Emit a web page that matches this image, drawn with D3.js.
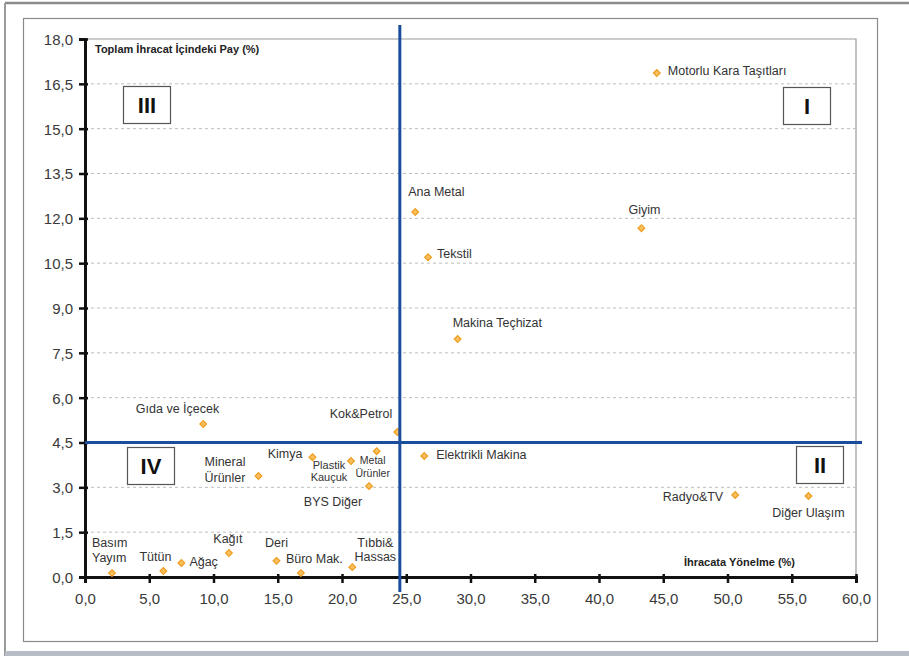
<!DOCTYPE html>
<html><head><meta charset="utf-8">
<script src="https://cdn.jsdelivr.net/npm/d3@7"></script>
<style>
body{margin:0;background:#fff;}
svg{display:block;font-family:"Liberation Sans",Arial,sans-serif;}
</style></head>
<body>
<svg id="c" width="909" height="656"></svg>
<script>
// ---- data ----
const sectors = ["Motorlu Kara Taşıtları","Giyim","Ana Metal","Tekstil","Makina Teçhizat","Gıda ve İçecek","Kok&Petrol","Elektrikli Makina","Kimya","Plastik\nKauçuk","Metal\nÜrünler","BYS Diğer","Mineral\nÜrünler","Radyo&TV","Diğer Ulaşım","Basım\nYayım","Tütün","Ağaç","Kağıt","Deri","Büro Mak.","Tıbbi&\nHassas"];
const exportOrientation = [44.5,43.3,25.7,26.7,29.0,9.2,24.3,26.4,17.7,20.7,22.7,22.1,13.5,50.6,56.3,2.1,6.1,7.5,11.2,14.9,16.8,20.8];
const exportShare = [16.86,11.67,12.21,10.70,7.96,5.12,4.85,4.05,4.01,3.88,4.21,3.04,3.38,2.74,2.71,0.13,0.20,0.47,0.80,0.54,0.13,0.33];
const xTicks = [0,5,10,15,20,25,30,35,40,45,50,55,60];
const yTicks = [0,1.5,3,4.5,6,7.5,9,10.5,12,13.5,15,16.5,18];
const xDivider = 24.5;
const yDivider = 4.5;
const quadrants = ["I","II","III","IV"];
const xTitle = "İhracata Yönelme (%)";
const yTitle = "Toplam İhracat İçindeki Pay (%)";

// ---- layout (label placement relative to points) ----
const labelLayout = {
  "Motorlu Kara Taşıtları":{dx:11,dy:2,a:"start",fs:12.5},
  "Giyim":{dx:3,dy:-14,a:"middle",fs:12.5},
  "Ana Metal":{dx:-7,dy:-16,a:"start",fs:12.5},
  "Tekstil":{dx:9,dy:1,a:"start",fs:12.5},
  "Makina Teçhizat":{dx:-5,dy:-12,a:"start",fs:12.5},
  "Gıda ve İçecek":{dx:16,dy:-11,a:"end",fs:12.5},
  "Kok&Petrol":{dx:-5,dy:-14,a:"end",fs:12.5},
  "Elektrikli Makina":{dx:12,dy:3,a:"start",fs:12.5},
  "Kimya":{dx:-10,dy:1,a:"end",fs:12.5},
  "Plastik\nKauçuk":{dx:-22,dy:8,a:"middle",fs:11,lh:12},
  "Metal\nÜrünler":{dx:-4,dy:13,a:"middle",fs:10.5,lh:13},
  "BYS Diğer":{dx:-36,dy:20,a:"middle",fs:12.5},
  "Mineral\nÜrünler":{dx:-54,dy:-10,a:"start",fs:12.5,lh:16},
  "Radyo&TV":{dx:-12,dy:6,a:"end",fs:12.5},
  "Diğer Ulaşım":{dx:0,dy:21,a:"middle",fs:12.5},
  "Basım\nYayım":{dx:-20,dy:-26,a:"start",fs:12.5,lh:15},
  "Tütün":{dx:-8,dy:-10,a:"middle",fs:12.5},
  "Ağaç":{dx:8,dy:3,a:"start",fs:12.5},
  "Kağıt":{dx:-1,dy:-10,a:"middle",fs:12.5},
  "Deri":{dx:0,dy:-14,a:"middle",fs:12.5},
  "Büro Mak.":{dx:-15,dy:-10,a:"start",fs:12.5},
  "Tıbbi&\nHassas":{dx:23,dy:-20,a:"middle",fs:12.5,lh:13.5}
};

const svg = d3.select("#c");
const fmt = v => d3.format(".1f")(v).replace(".", ",");

// frames
svg.append("rect").attr("x",0).attr("y",0).attr("width",909).attr("height",656).attr("fill","#fff");
svg.append("line").attr("x1",5).attr("x2",909).attr("y1",3).attr("y2",3).attr("stroke","#8a8a8a").attr("stroke-width",2.5);
svg.append("line").attr("x1",5).attr("x2",5).attr("y1",3).attr("y2",656).attr("stroke","#9a9a9a").attr("stroke-width",2);
svg.append("rect").attr("x",5).attr("y",651).attr("width",904).attr("height",5).attr("fill","#b8bcc4");
svg.append("rect").attr("x",23.5).attr("y",18.5).attr("width",854).attr("height",623).attr("fill","none").attr("stroke","#8a8a8a").attr("stroke-width",1.2);

const x = d3.scaleLinear().domain([0,60]).range([85,856]);
const y = d3.scaleLinear().domain([0,18]).range([577,39]);

// plot border (top/right)
svg.append("path").attr("d",`M${x(0)},${y(18)}H${x(60)}V${y(0)}`).attr("fill","none").attr("stroke","#9a9a9a").attr("stroke-width",1.2);

// gridlines
svg.append("g").selectAll("line").data(yTicks.filter(t=>t>0 && t<18)).join("line")
  .attr("x1",x(0)).attr("x2",x(60)).attr("y1",d=>y(d)).attr("y2",d=>y(d))
  .attr("stroke","#bdbdbd").attr("stroke-width",1).attr("stroke-dasharray","3,3");

// axes
const xAxis = svg.append("g").attr("transform",`translate(0,${y(0)})`)
  .call(d3.axisBottom(x).tickValues(xTicks).tickFormat(fmt).tickSize(6).tickPadding(10));
const yAxis = svg.append("g").attr("transform",`translate(${x(0)},0)`)
  .call(d3.axisLeft(y).tickValues(yTicks).tickFormat(fmt).tickSize(6).tickPadding(6));
[xAxis,yAxis].forEach(g=>{
  g.select(".domain").attr("stroke","#111").attr("stroke-width",3);
  g.selectAll(".tick line").attr("stroke","#111").attr("stroke-width",2.5);
  g.selectAll(".tick text").attr("fill","#3a3a3a").style("font-size","15px").style("font-family","'Liberation Sans',Arial,sans-serif");
});
xAxis.selectAll(".tick line").attr("y1",-3);
yAxis.selectAll(".tick line").attr("x1",3);
yAxis.selectAll(".tick text").attr("dy","0.36em");

// axis titles
svg.append("text").attr("x",95).attr("y",53).text(yTitle)
  .attr("font-family","'Liberation Sans Narrow','Arial Narrow','Liberation Sans',sans-serif")
  .attr("font-weight","bold").attr("font-size",11).attr("fill","#222");
svg.append("text").attr("x",795).attr("y",566).attr("text-anchor","end").text(xTitle)
  .attr("font-family","'Liberation Sans Narrow','Arial Narrow','Liberation Sans',sans-serif")
  .attr("font-weight","bold").attr("font-size",11).attr("fill","#222");

// points
const pts = sectors.map((s,i)=>({name:s,x:exportOrientation[i],y:exportShare[i]}));
svg.append("g").selectAll("path").data(pts).join("path")
  .attr("transform",d=>`translate(${x(d.x)},${y(d.y)})`)
  .attr("d",d3.symbol(d3.symbolDiamond2,28))
  .attr("fill","#f9c060").attr("stroke","#ef9f22").attr("stroke-width",1.3);

// dividers (drawn over the points)
svg.append("line").attr("x1",x(xDivider)).attr("x2",x(xDivider)).attr("y1",25).attr("y2",592)
  .attr("stroke","#1a4d9c").attr("stroke-width",3);
svg.append("line").attr("x1",x(0)).attr("x2",862).attr("y1",y(yDivider)).attr("y2",y(yDivider))
  .attr("stroke","#1a4d9c").attr("stroke-width",3);

// quadrant boxes
const qPos = {"I":[783,87],"II":[796,446],"III":[123,86],"IV":[127,447]};
quadrants.forEach(q=>{
  const [bx,by] = qPos[q];
  svg.append("rect").attr("x",bx+0.5).attr("y",by+0.5).attr("width",47).attr("height",37)
    .attr("fill","#fff").attr("stroke","#555").attr("stroke-width",1.2);
  svg.append("text").attr("x",bx+24).attr("y",by+27).attr("text-anchor","middle")
    .attr("font-weight","bold").attr("font-size",22).attr("fill","#111")
    .attr("font-family","'Liberation Sans Narrow','Liberation Sans',Arial,sans-serif").text(q);
});

// labels
const lg = svg.append("g");
pts.forEach(p=>{
  const L = labelLayout[p.name];
  const lines = p.name.split("\n");
  const t = lg.append("text").attr("text-anchor",L.a).attr("font-size",L.fs).attr("fill","#333")
    .attr("x",x(p.x)+L.dx).attr("y",y(p.y)+L.dy);
  lines.forEach((ln,i)=>{
    t.append("tspan").attr("x",x(p.x)+L.dx).attr("dy",i===0?0:(L.lh||15)).text(ln);
  });
});
</script>
</body></html>
